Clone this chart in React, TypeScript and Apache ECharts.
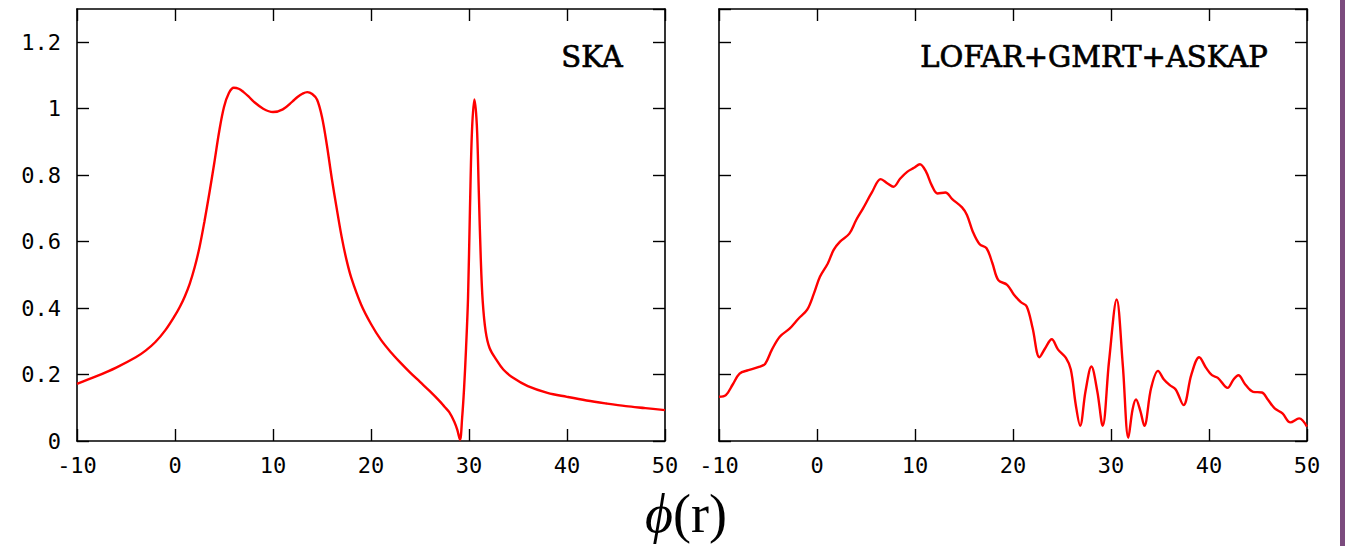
import React, { useEffect, useRef } from "react";
import * as echarts from "echarts";

// ---- Data ----
const xTicks = [-10, 0, 10, 20, 30, 40, 50];
const yTicks = [0, 0.2, 0.4, 0.6, 0.8, 1, 1.2];

const panelTitles = ["SKA", "LOFAR+GMRT+ASKAP"];
const axisTitle = "(r)";

const skaX = [
  -10, -8, -6, -4, -3, -2, -1, 0, 0.5, 1, 1.5, 2, 2.5, 3, 3.5, 4, 4.5, 5, 5.5, 6, 6.5, 7,
  7.5, 8, 9, 10, 11, 12, 12.5, 13, 13.5, 14, 14.5, 15, 15.5, 16, 16.5, 17, 17.5,
  18, 19, 20, 21, 22, 23, 24, 25, 26, 27, 27.5, 28, 28.5, 28.8, 29.08, 29.3,
  29.5, 29.7, 29.9, 30.1, 30.3, 30.55, 30.8, 31.0, 31.2, 31.4, 31.7, 32.1, 32.8,
  33.5, 34.5, 36, 38, 40, 42, 44, 46, 48, 50,
];
const skaY = [
  0.172, 0.195, 0.221, 0.252, 0.272, 0.298, 0.333, 0.378, 0.404, 0.435, 0.473, 0.522, 0.583,
  0.66, 0.745, 0.835, 0.93, 1.005, 1.047, 1.063, 1.06, 1.05, 1.037, 1.022, 1.0,
  0.99, 0.998, 1.022, 1.035, 1.045, 1.05, 1.044, 1.027, 0.975, 0.89, 0.79, 0.7,
  0.615, 0.545, 0.49, 0.41, 0.352, 0.305, 0.268, 0.236, 0.206, 0.178, 0.15,
  0.12, 0.103, 0.086, 0.058, 0.034, 0.004, 0.07, 0.16, 0.28, 0.43, 0.7, 0.93,
  1.028, 0.95, 0.75, 0.55, 0.42, 0.33, 0.28, 0.244, 0.215, 0.19, 0.165, 0.145,
  0.133, 0.122, 0.113, 0.105, 0.099, 0.093,
];

const lofarX = [
  -10, -9.3, -8.6, -7.9, -7, -6, -5.3, -4.6, -3.8, -2.8, -1.9, -1.0, -0.3, 0.3,
  1.1, 1.7, 2.35, 3.3, 4.0, 4.7, 5.6, 6.5, 7.2, 7.8, 8.5, 9.2, 9.9, 10.5, 11.1,
  11.7, 12.3, 13.1, 13.8, 14.8, 15.3, 15.9, 16.6, 17.3, 17.9, 18.5, 19.4, 20.1,
  20.8, 21.4, 22.0, 22.7, 23.3, 23.95, 24.6, 25.4, 25.9, 26.4, 26.85, 27.4,
  28.0, 28.6, 29.15, 29.8, 30.58, 31.2, 31.77, 32.2, 32.55, 33.0, 33.4, 34.1,
  34.8, 35.4, 36.0, 36.6, 37.4, 38.2, 39.0, 39.7, 40.3, 40.9, 41.9, 42.5, 43.0,
  43.7, 44.5, 45.4, 46.0, 46.7, 47.5, 48.3, 49.2, 50,
];
const lofarY = [
  0.133, 0.138, 0.17, 0.203, 0.213, 0.222, 0.232, 0.275, 0.314, 0.338, 0.368,
  0.395, 0.445, 0.494, 0.534, 0.575, 0.6, 0.624, 0.665, 0.7, 0.748, 0.788,
  0.775, 0.765, 0.79, 0.81, 0.822, 0.833, 0.812, 0.77, 0.745, 0.748, 0.728,
  0.703, 0.68, 0.63, 0.592, 0.58, 0.535, 0.484, 0.47, 0.44, 0.418, 0.405,
  0.34, 0.252, 0.28, 0.306, 0.275, 0.25, 0.215, 0.11, 0.046, 0.15, 0.224,
  0.15, 0.046, 0.24, 0.426, 0.23, 0.01, 0.095, 0.125, 0.09, 0.046, 0.16, 0.211,
  0.185, 0.168, 0.155, 0.108, 0.2, 0.252, 0.22, 0.198, 0.19, 0.16, 0.185,
  0.198, 0.17, 0.148, 0.146, 0.125, 0.098, 0.083, 0.056, 0.068, 0.043,
];

const zip = (xs: number[], ys: number[]) => xs.map((x, i) => [x, ys[i]]);

const X_MIN = xTicks[0];
const X_MAX = xTicks[xTicks.length - 1];
const Y_MIN = yTicks[0];
const Y_MAX = 1.3;

const monoFont = "'DejaVu Sans Mono', 'Liberation Mono', monospace";
const serifFont = "'DejaVu Serif', 'Liberation Serif', serif";

export default function App() {
  const ref = useRef<HTMLDivElement>(null);

  useEffect(() => {
    if (!ref.current) return;
    const chart = echarts.init(ref.current, null, { renderer: "svg" });

    const axisLine = { show: true, onZero: false, lineStyle: { color: "#000", width: 1.6 } };
    const tick = { show: true, inside: true, length: 12, lineStyle: { color: "#000", width: 1.4 } };

    const xAxisFor = (gridIndex: number, position: "bottom" | "top", labels: boolean) => ({
      type: "value",
      gridIndex,
      position,
      min: X_MIN,
      max: X_MAX,
      interval: 10,
      axisLine,
      axisTick: tick,
      splitLine: { show: false },
      axisLabel: labels
        ? {
            show: true,
            margin: 13,
            color: "#000",
            fontFamily: monoFont,
            fontSize: 22,
            formatter: (v: number) => String(v),
          }
        : { show: false },
    });

    const yAxisFor = (gridIndex: number, position: "left" | "right", labels: boolean) => ({
      type: "value",
      gridIndex,
      position,
      min: Y_MIN,
      max: Y_MAX,
      interval: 0.2,
      axisLine,
      axisTick: tick,
      splitLine: { show: false },
      axisLabel: labels
        ? {
            show: true,
            margin: 16,
            color: "#000",
            fontFamily: monoFont,
            fontSize: 22,
            showMaxLabel: false,
            formatter: (v: number) => (v > 1.25 ? "" : String(parseFloat(v.toFixed(1)))),
          }
        : { show: false },
    });

    const lineSeries = (idx: number, data: number[][]) => ({
      type: "line",
      xAxisIndex: idx,
      yAxisIndex: idx,
      data,
      showSymbol: false,
      smooth: 0.35,
      lineStyle: { color: "#ff0000", width: 2.4 },
      clip: true,
    });

    const titleStyle = (text: string) => ({
      text,
      font: `29px ${serifFont}`,
      fill: "#000",
      stroke: "#000",
      lineWidth: 0.7,
    });

    chart.setOption({
      animation: false,
      backgroundColor: "#fff",
      grid: [
        { left: 77, top: 9, width: 588, height: 432 },
        { left: 719, top: 9, width: 588, height: 432 },
      ],
      xAxis: [
        xAxisFor(0, "bottom", true),
        xAxisFor(1, "bottom", true),
        xAxisFor(0, "top", false),
        xAxisFor(1, "top", false),
      ],
      yAxis: [
        yAxisFor(0, "left", true),
        yAxisFor(1, "left", false),
        yAxisFor(0, "right", false),
        yAxisFor(1, "right", false),
      ],
      series: [lineSeries(0, zip(skaX, skaY)), lineSeries(1, zip(lofarX, lofarY))],
      graphic: [
        { type: "text", right: 1345 - 623, top: 42, style: titleStyle(panelTitles[0]) },
        { type: "text", right: 1345 - 1268, top: 42, style: titleStyle(panelTitles[1]) },
        {
          type: "text",
          left: 645,
          top: 487,
          style: {
            text: "{p|ϕ}{r|" + axisTitle + "}",
            rich: {
              p: { fontFamily: "'Liberation Serif', serif", fontStyle: "italic", fontSize: 54, fill: "#000" },
              r: { fontFamily: "'Liberation Serif', serif", fontSize: 54, fill: "#000" },
            },
          },
        },
        {
          type: "rect",
          shape: { x: 1340, y: 0, width: 5, height: 546 },
          style: { fill: "#7b4b7e" },
        },
      ],
    });

    return () => chart.dispose();
  }, []);

  return (
    <div
      ref={ref}
      style={{ position: "fixed", left: 0, top: 0, width: 1345, height: 546, background: "#fff" }}
    />
  );
}
